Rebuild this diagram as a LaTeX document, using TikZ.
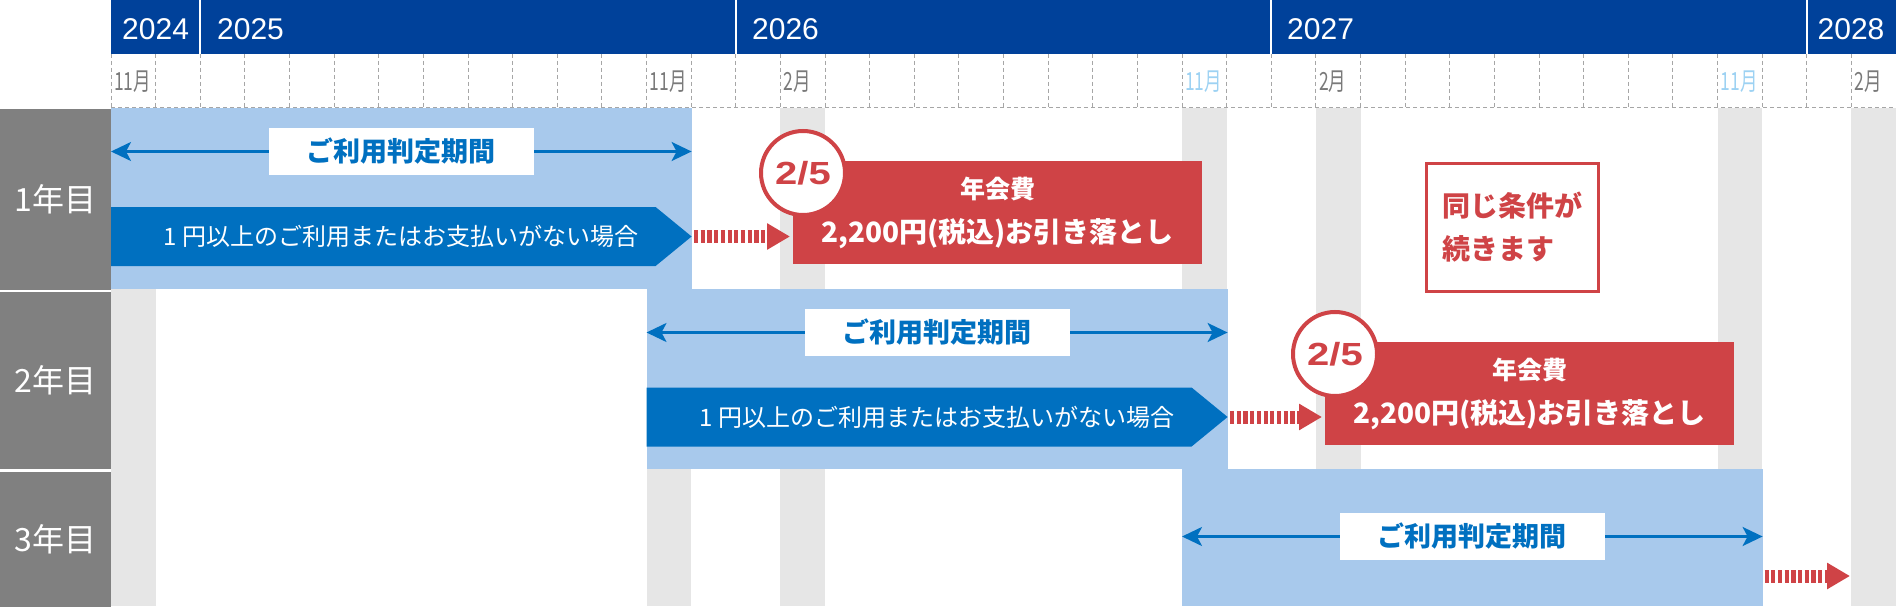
\documentclass[tikz,border=0pt]{standalone}
\usepackage{fontspec}
\setmainfont{Liberation Sans}
\newfontfamily\jp{Noto Sans CJK JP}
\usetikzlibrary{arrows.meta,calc,positioning}
\definecolor{navy}{HTML}{00419A}
\definecolor{bandblue}{HTML}{A8C9EC}
\definecolor{deepblue}{HTML}{0070C0}
\definecolor{feered}{HTML}{CF4346}
\definecolor{sidegray}{HTML}{808080}
\definecolor{stripegray}{HTML}{E6E6E6}
\definecolor{monthgray}{HTML}{7A7A7A}
\definecolor{monthblue}{HTML}{9DD2F3}
\definecolor{gridgray}{HTML}{A6A6A6}
\newcommand\fsz[1]{\fontsize{#1}{#1}\selectfont}

\begin{document}
\begin{tikzpicture}[x=1pt,y=-1pt,
    rowlabel/.style={anchor=north west,fill=sidegray,text=white,font=\jp\fsz{32},minimum width=111pt,inner sep=0pt},
    yearlabel/.style={text=white,font=\fsz{30},inner sep=0pt},
    monthlabel/.style={anchor=west,inner sep=0pt,font=\jp},
    monthline/.style={draw=gridgray,line width=1pt,dash pattern=on 4pt off 3pt},
    period/.style={draw=deepblue,line width=2.5pt,{Stealth[length=20pt,width=19pt,inset=5pt]}-{Stealth[length=20pt,width=19pt,inset=5pt]}},
    judge/.style={fill=white,text=deepblue,font=\jp\bfseries\fsz{27},minimum width=265pt,minimum height=47pt,inner sep=0pt},
    casetext/.style={text=white,font=\jp\fsz{24},inner sep=0pt},
    due/.style={draw=feered,line width=13pt,dash pattern=on 4.2pt off 2.5pt,-{Triangle[length=23pt,width=25pt]},shorten >=3pt},
    feebox/.style={anchor=north west,fill=feered,text=white,font=\jp\bfseries\fontsize{28}{43.5}\selectfont,align=center,minimum width=409pt,minimum height=103pt,inner sep=0pt},
    datecircle/.style={circle,draw=feered,line width=4pt,fill=white,text=feered,font=\bfseries\fsz{32},minimum size=84pt,inner sep=0pt},
    contbox/.style={anchor=north west,draw=feered,line width=3pt,text=feered,font=\jp\bfseries\fontsize{28}{43}\selectfont,align=left,minimum width=172pt,minimum height=128pt,inner sep=0pt}]
  \useasboundingbox (0,0) rectangle (1896,607);
  \fill[white] (0,0) rectangle (1896,607);

  % side labels
  \node[rowlabel,minimum height=180.8pt] (r1) at (0,108.5) {1年目};
  \node[rowlabel,minimum height=176.5pt] (r2) at (0,292) {2年目};
  \node[rowlabel,minimum height=135pt] (r3) at (0,472) {3年目};

  % years
  \fill[navy] (111,0) rectangle (1896,54);
  \foreach \i in {2,14,26,38}
    \draw[white,line width=2pt] ({111+44.625*\i},0) -- ++(0,54);
  \node[yearlabel] (y2024) at (155.6,29) {2024};
  \node[yearlabel,anchor=west] (y2025) at (217,29) {2025};
  \node[yearlabel,anchor=west] (y2026) at (752,29) {2026};
  \node[yearlabel,anchor=west] (y2027) at (1287,29) {2027};
  \node[yearlabel] (y2028) at (1851,29) {2028};

  % months
  \foreach \i in {0,...,39}
    \draw[monthline] ({111+44.625*\i},54) -- ++(0,54);
  \draw[monthline] (111,108) -- (1896,108);
  \foreach \i/\m/\c in {0/11/monthgray,12/11/monthgray,15/2/monthgray,24/11/monthblue,27/2/monthgray,36/11/monthblue,39/2/monthgray}
    \node[monthlabel,text=\c] (m\i) at ({114+44.625*\i},82) {\scalebox{.7}[1]{\fsz{25}\m 月}};

  % stripes and bands
  \foreach \i in {0,12,15,24,27,36,39}
    \fill[stripegray] ({111+44.625*\i},108.5) rectangle ++(44.625,497.5);
  \fill[bandblue] (111,108.5) rectangle (691.6,289);
  \fill[bandblue] (646.5,289) rectangle (1227.6,469);
  \fill[bandblue] (1182,469) rectangle (1762.6,606);

  % judging periods
  \coordinate (s1) at (111,151.5);
  \coordinate (e1) at (691.6,151.5);
  \coordinate (s2) at (646.5,332.5);
  \coordinate (e2) at (1227.6,332.5);
  \coordinate (s3) at (1182,536.5);
  \coordinate (e3) at (1762.6,536.5);
  \draw[period] (s1) -- (e1) node[midway,judge] (j1) {ご利用判定期間};
  \draw[period] (s2) -- (e2) node[midway,judge] (j2) {ご利用判定期間};
  \draw[period] (s3) -- (e3) node[midway,judge] (j3) {ご利用判定期間};

  % cases
  \fill[deepblue] (111,207) -- (655.6,207) -- (691.6,236.5) -- (655.6,266) -- (111,266) -- cycle;
  \node[casetext] (c1) at (401.3,236.5) {1 円以上のご利用またはお支払いがない場合};
  \fill[deepblue] (646.5,387.5) -- (1191.6,387.5) -- (1227.6,417) -- (1191.6,446.5) -- (646.5,446.5) -- cycle;
  \node[casetext] (c2) at (937,417) {1 円以上のご利用またはお支払いがない場合};

  % fees
  \node[feebox] (f1) at (793,161) {{\fsz{25}年会費}\\2,200円(税込)お引き落とし};
  \node[feebox] (f2) at (1325,342) {{\fsz{25}年会費}\\2,200円(税込)お引き落とし};
  \coordinate (t1) at (694,236.5);
  \coordinate (t2) at (1230,417);
  \coordinate (t3) at (1764.5,576);
  \coordinate (n3) at (1853,576);
  \draw[due] (t1) -- (t1 -| f1.west);
  \draw[due] (t2) -- (t2 -| f2.west);
  \draw[due] (t3) -- (n3);
  \node[datecircle] (d1) at ($(f1.north west)+(10,12)$) {\scalebox{1.25}[1]{2/5}};
  \node[datecircle] (d2) at ($(f2.north west)+(10,12)$) {\scalebox{1.25}[1]{2/5}};

  \node[contbox] (k) at (1425,162) {同じ条件が\\続きます};
\end{tikzpicture}
\end{document}
